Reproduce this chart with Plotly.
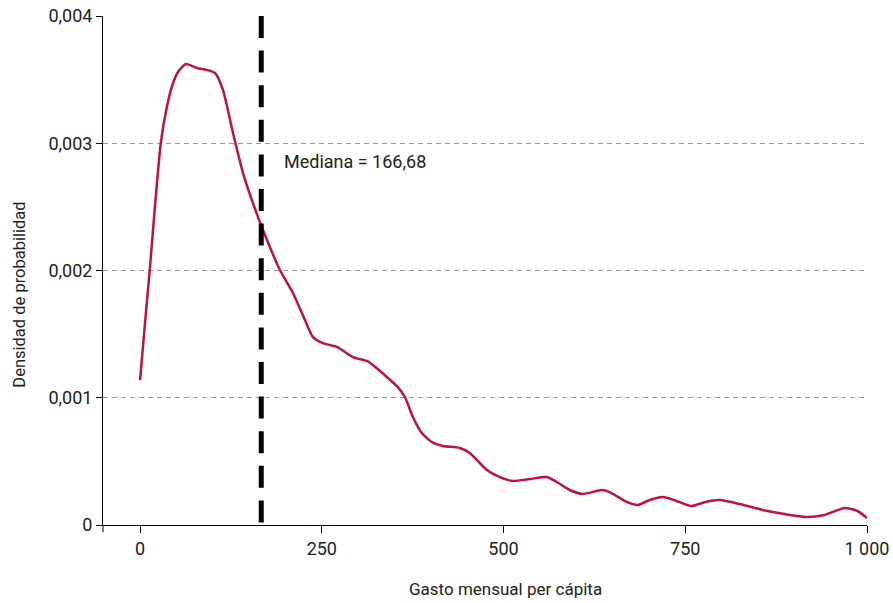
import plotly.graph_objects as go

# Kernel density of monthly per-capita spending
gasto = [0, 7, 14, 21, 28.5, 36.7, 44, 52.2, 63.2, 77.9, 91.7,
         103.1, 114.1, 127.8, 141.6, 155.3, 169.1, 192.4, 210.3, 226.8, 237.8,
         251.5, 270.8, 292.8, 312.0, 320.3, 339.5, 354.6, 364.3, 375.3, 387.6,
         401.4, 416.5, 439.9, 453.6, 477.0, 494.8, 512.7, 536.1, 559.5, 573.2,
         591.1, 609.0, 635.1, 646.0, 669.4, 684.5, 701.0, 718.9, 738.1, 758.8,
         778.0, 797.3, 824.7, 856.4, 886.6, 916.8, 941.6, 969.1, 987.0, 1000.0]
densidad = [0.001139, 0.00160, 0.00205, 0.00254, 0.003002,
            0.003280, 0.003450, 0.003560, 0.003623, 0.003591, 0.003576, 0.003552,
            0.003418, 0.003081, 0.002766, 0.002530, 0.002318, 0.002004, 0.001823,
            0.001611, 0.001477, 0.001430, 0.001399, 0.001320, 0.001289, 0.001257,
            0.001163, 0.001084, 0.001006, 0.000849, 0.000723, 0.000652, 0.000621,
            0.000605, 0.000566, 0.000432, 0.000377, 0.000346, 0.000361, 0.000377,
            0.000338, 0.000275, 0.000244, 0.000275, 0.000259, 0.000181, 0.000157,
            0.000196, 0.000220, 0.000189, 0.000149, 0.000181, 0.000196, 0.000165,
            0.000118, 0.000086, 0.000063, 0.000079, 0.000134, 0.000110, 0.000055]

mediana = 166.68
mediana_texto = "Mediana = 166,68"

x_ticks = [0, 250, 500, 750, 1000]
x_labels = ["0", "250", "500", "750", "1 000"]
y_ticks = [0, 0.001, 0.002, 0.003, 0.004]
y_labels = ["0", "0,001", "0,002", "0,003", "0,004"]

FONT = "Roboto, Arial, sans-serif"
TXT = "#222222"

fig = go.Figure()
fig.add_trace(go.Scatter(
    x=gasto, y=densidad, mode="lines",
    line=dict(color="#C2103F", width=2.5, shape="spline", smoothing=0.6),
    hoverinfo="skip", showlegend=False,
))

# Median marker
fig.add_shape(type="line", xref="x", yref="y",
              x0=mediana, x1=mediana, y0=0.004, y1=0,
              line=dict(color="black", width=5, dash="22px,12.6px"))
fig.add_annotation(x=195, y=0.002853, xref="x", yref="y", text=mediana_texto,
                   showarrow=False, xanchor="left", yanchor="middle",
                   font=dict(family=FONT, size=18, color=TXT))

# Small tick at left end of the x axis
fig.add_shape(type="line", xref="paper", yref="paper", x0=0, x1=0,
              y0=0, y1=-7 / 509, line=dict(color="black", width=1))

fig.add_annotation(text="Densidad de probabilidad", xref="paper", yref="paper",
                   x=-0.109, y=0.452, textangle=-90, showarrow=False,
                   xanchor="center", yanchor="middle",
                   font=dict(family=FONT, size=16.5, color=TXT))
fig.add_annotation(text="Gasto mensual per cápita", xref="paper", yref="paper",
                   x=0.527, y=-0.1257, showarrow=False,
                   xanchor="center", yanchor="middle",
                   font=dict(family=FONT, size=17, color=TXT))

fig.update_layout(
    width=893, height=603,
    margin=dict(l=103, r=26, t=16, b=78),
    paper_bgcolor="white", plot_bgcolor="white",
    font=dict(family=FONT, size=18, color=TXT),
    xaxis=dict(range=[-51, 1000], tickvals=x_ticks, ticktext=x_labels,
               automargin=False,
               showgrid=False, zeroline=False, showline=True, linecolor="black",
               linewidth=1, ticks="outside", ticklen=7, tickcolor="black",
               tickfont=dict(family=FONT, size=18, color=TXT)),
    yaxis=dict(range=[0, 0.004], tickvals=y_ticks, ticktext=y_labels,
               automargin=False,
               showgrid=True, gridcolor="#999999", gridwidth=1, griddash="5px,4px",
               zeroline=False, showline=True, linecolor="black", linewidth=1,
               ticks="outside", ticklen=6, tickcolor="black",
               tickfont=dict(family=FONT, size=18, color=TXT)),
)

fig.write_html("out.html")
